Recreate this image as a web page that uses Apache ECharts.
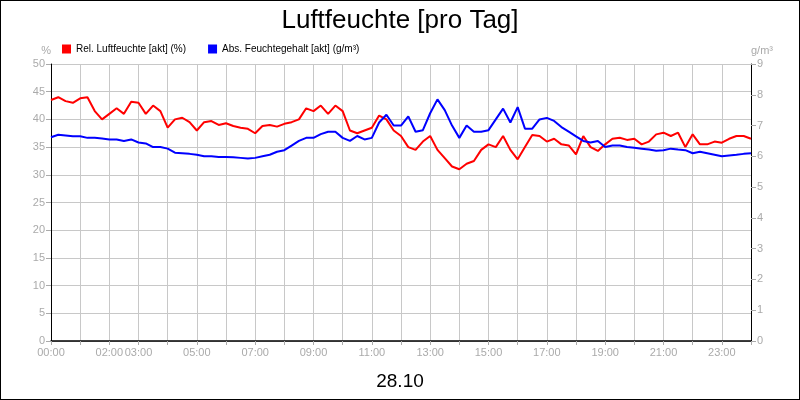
<!DOCTYPE html>
<html><head><meta charset="utf-8">
<script src="https://cdn.jsdelivr.net/npm/echarts@6/dist/echarts.min.js"></script>
<style>html,body{margin:0;padding:0;}#c{width:800px;height:400px;box-sizing:border-box;border:1px solid #000;}</style>
</head><body><div id="c"></div>
<script>
const hourLabels = ['00:00','02:00','03:00','05:00','07:00','09:00','11:00','13:00','15:00','17:00','19:00','21:00','23:00'];
const relHumidity = [43.5,44,43.3,43,43.8,44,41.5,40,41,42,41,43.2,43,41,42.5,41.5,38.5,40,40.3,39.5,38,39.5,39.7,39,39.3,38.8,38.5,38.3,37.5,38.8,39,38.7,39.2,39.5,40,42,41.5,42.5,41,42.5,41.5,38,37.5,38,38.5,40.7,40,38,37,35,34.5,36,37,34.5,33,31.5,31,32,32.5,34.5,35.5,35,37,34.5,32.8,35,37.2,37,36,36.5,35.5,35.3,33.7,37,35,34.3,35.5,36.5,36.7,36.3,36.5,35.5,36,37.3,37.6,37,37.6,35,37.3,35.5,35.5,36,35.8,36.5,37,37,36.5];
const absHumidity = [6.62,6.7,6.68,6.65,6.65,6.6,6.6,6.58,6.55,6.55,6.5,6.55,6.45,6.42,6.3,6.3,6.25,6.12,6.1,6.08,6.05,6.0,6.0,5.98,5.98,5.97,5.95,5.93,5.95,6.0,6.05,6.15,6.2,6.35,6.5,6.6,6.6,6.72,6.8,6.8,6.6,6.5,6.66,6.55,6.6,7.1,7.35,7.0,7.0,7.3,6.8,6.85,7.4,7.85,7.5,7.0,6.6,7.0,6.8,6.8,6.85,7.2,7.55,7.1,7.6,6.9,6.9,7.2,7.25,7.15,6.95,6.8,6.65,6.5,6.45,6.5,6.3,6.35,6.35,6.3,6.28,6.25,6.22,6.18,6.2,6.25,6.22,6.2,6.1,6.15,6.1,6.05,6.0,6.03,6.05,6.08,6.1];
const times = [];
for (let i = 0; i < relHumidity.length; i++) {
  const m = i * 15, h = Math.floor(m / 60), mm = m % 60;
  times.push(String(h).padStart(2,'0') + ':' + String(mm).padStart(2,'0'));
}
const chart = echarts.init(document.getElementById('c'));
const gray = '#aaaaaa';
chart.setOption({
  animation: false,
  backgroundColor: '#fff',
  title: [
    {text: 'Luftfeuchte [pro Tag]', left: 'center', top: 2, textStyle: {fontFamily: 'Liberation Sans', fontSize: 26, fontWeight: 'normal', color: '#000'}},
    {text: '28.10', left: 'center', top: 366, textStyle: {fontFamily: 'Liberation Sans', fontSize: 19, fontWeight: 'normal', color: '#000'}}
  ],
  legend: {
    left: 56, top: 38, itemWidth: 9, itemHeight: 9, itemGap: 22, icon: 'rect',
    textStyle: {fontFamily: 'Liberation Sans', fontSize: 10, color: '#000'},
    data: ['Rel. Luftfeuchte [akt] (%)', 'Abs. Feuchtegehalt [akt] (g/m³)']
  },
  grid: {left: 50, right: 48, top: 63, bottom: 58},
  xAxis: {
    type: 'category', data: times, boundaryGap: false,
    axisLine: {lineStyle: {color: '#000', width: 1.5}},
    axisTick: {interval: (i) => i % 4 === 0, lineStyle: {color: gray}, length: 4},
    splitLine: {show: true, interval: (i) => i % 4 === 0, lineStyle: {color: '#c8c8c8'}},
    axisLabel: {
      interval: (i, v) => i % 4 === 0 && hourLabels.includes(v),
      color: gray, fontFamily: 'Liberation Sans', fontSize: 11, margin: 6
    }
  },
  yAxis: [
    {type: 'value', min: 0, max: 50, interval: 5, name: '%', nameGap: 8,
     nameTextStyle: {color: gray, fontFamily: 'Liberation Sans', fontSize: 11, align: 'right'},
     axisLine: {show: true, lineStyle: {color: '#000'}},
     axisTick: {show: true, lineStyle: {color: gray}},
     axisLabel: {color: gray, fontFamily: 'Liberation Sans', fontSize: 11, margin: 6},
     splitLine: {lineStyle: {color: '#c8c8c8'}}},
    {type: 'value', min: 0, max: 9, interval: 1, name: 'g/m³', nameGap: 8,
     nameTextStyle: {color: gray, fontFamily: 'Liberation Sans', fontSize: 11, align: 'left'},
     axisLine: {show: true, lineStyle: {color: '#000'}},
     axisTick: {show: true, lineStyle: {color: gray}},
     axisLabel: {color: gray, fontFamily: 'Liberation Sans', fontSize: 11, margin: 6},
     splitLine: {show: false}}
  ],
  series: [
    {name: 'Rel. Luftfeuchte [akt] (%)', type: 'line', yAxisIndex: 0, data: relHumidity, showSymbol: false, color: '#ff0000', lineStyle: {width: 2}},
    {name: 'Abs. Feuchtegehalt [akt] (g/m³)', type: 'line', yAxisIndex: 1, data: absHumidity, showSymbol: false, color: '#0000ff', lineStyle: {width: 2}}
  ]
});
</script></body></html>
